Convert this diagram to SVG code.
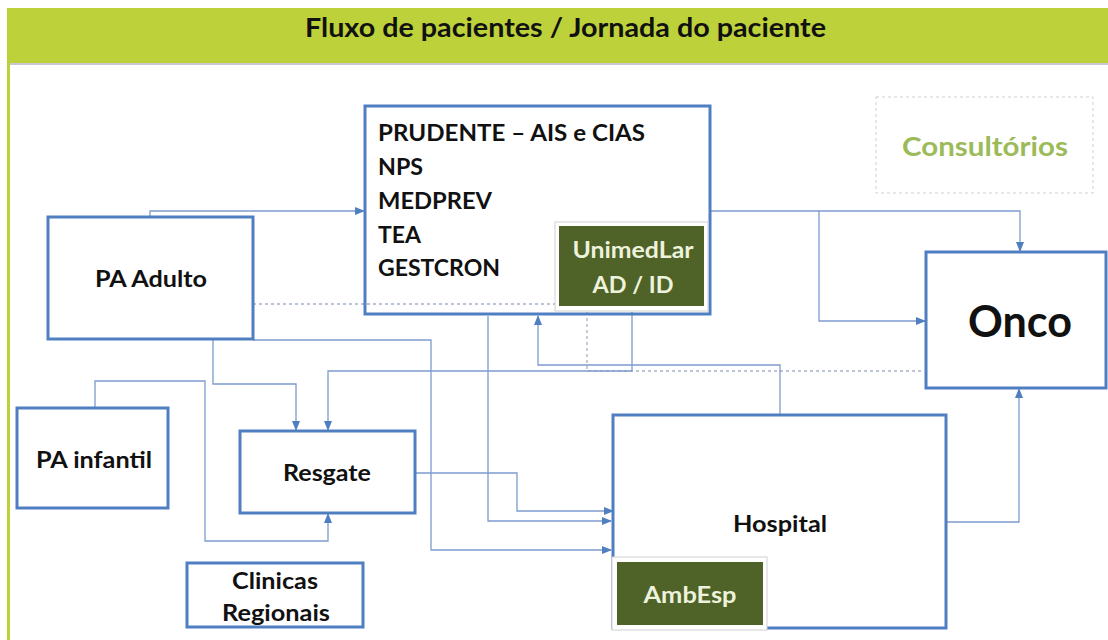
<svg xmlns="http://www.w3.org/2000/svg" width="1108" height="640" viewBox="0 0 1108 640">
  <defs>
    <style>
      .box { fill: #ffffff; stroke: #4F7FC0; stroke-width: 3; }
      .lbl { font-family: Lato, "Liberation Sans", sans-serif; font-weight: bold; fill: #111111; }
      .dark { fill: #4F6228; }
      .frame { fill: #ffffff; stroke: #d0d0d0; stroke-width: 1; }
      .ltxt { font-family: Lato, "Liberation Sans", sans-serif; font-weight: bold; fill: #EDF2DC; }
      .con { fill: none; stroke: #7E9BCD; stroke-width: 1.3; }
      .dash { fill: none; stroke: #A7B2C6; stroke-width: 1.3; stroke-dasharray: 3 3; }
    </style>
    <marker id="arr" markerUnits="userSpaceOnUse" markerWidth="10" markerHeight="10" viewBox="0 0 10 10" refX="9" refY="5" orient="auto">
      <path d="M0,1 L10,5 L0,9 Z" fill="#4F7FC0"/>
    </marker>
  </defs>

  <!-- background -->
  <rect x="0" y="0" width="1108" height="640" fill="#ffffff"/>

  <!-- header band -->
  <g id="header">
    <rect x="7" y="8" width="1101" height="55" fill="#BDD13A"/>
    <line x1="7" y1="64" x2="1108" y2="64" stroke="#B9B4C6" stroke-width="1.5"/>
    <rect x="7" y="63" width="3" height="577" fill="#BDD13A"/>
    <text class="lbl" x="305" y="37" font-size="27" textLength="521" lengthAdjust="spacingAndGlyphs">Fluxo de pacientes / Jornada do paciente</text>
  </g>

  <!-- connectors -->
  <g id="connectors">
    <path class="dash" d="M253,304 H587 V371 H924"/>
    <path class="con" d="M150,217 V211 H364" marker-end="url(#arr)"/>
    <path class="con" d="M710,211 H1020 V251" marker-end="url(#arr)"/>
    <path class="con" d="M819,211 V321 H925" marker-end="url(#arr)"/>
    <path class="con" d="M213,339 V384 H296 V430" marker-end="url(#arr)"/>
    <path class="con" d="M253,340 H431 V550 H611" marker-end="url(#arr)"/>
    <path class="con" d="M488,316 V521 H611" marker-end="url(#arr)"/>
    <path class="con" d="M415,473 H517 V511 H613" marker-end="url(#arr)"/>
    <path class="con" d="M780,414 V365 H538 V316" marker-end="url(#arr)"/>
    <path class="con" d="M632,312 V371 H328 V430" marker-end="url(#arr)"/>
    <path class="con" d="M95,408 V381 H205 V541 H328 V514" marker-end="url(#arr)"/>
    <path class="con" d="M946,522 H1019 V389" marker-end="url(#arr)"/>
  </g>

  <!-- PRUDENTE block -->
  <g id="prudente">
    <rect class="box" x="365" y="106" width="345" height="208" fill-opacity="0"/>
    <text class="lbl" x="378" y="141" font-size="22" textLength="267" lengthAdjust="spacingAndGlyphs">PRUDENTE – AIS e CIAS</text>
    <text class="lbl" x="378" y="175" font-size="22" textLength="45" lengthAdjust="spacingAndGlyphs">NPS</text>
    <text class="lbl" x="378" y="209" font-size="22" textLength="114" lengthAdjust="spacingAndGlyphs">MEDPREV</text>
    <text class="lbl" x="378" y="243" font-size="22" textLength="43" lengthAdjust="spacingAndGlyphs">TEA</text>
    <text class="lbl" x="378" y="276" font-size="22" textLength="122" lengthAdjust="spacingAndGlyphs">GESTCRON</text>
  </g>

  <!-- UnimedLar -->
  <g id="unimedlar">
    <rect class="frame" x="555" y="222" width="153" height="89"/>
    <rect class="dark" x="559" y="226" width="145" height="80"/>
    <text class="ltxt" x="633" y="258" font-size="22" text-anchor="middle" textLength="121" lengthAdjust="spacingAndGlyphs">UnimedLar</text>
    <text class="ltxt" x="633" y="293" font-size="22" text-anchor="middle" textLength="81" lengthAdjust="spacingAndGlyphs">AD / ID</text>
  </g>

  <!-- Consultorios -->
  <g id="consultorios">
    <rect x="876" y="97" width="217" height="96" fill="none" stroke="#CFCFCF" stroke-width="1" stroke-dasharray="3 3"/>
    <text x="902" y="156" font-family="Lato, 'Liberation Sans', sans-serif" font-weight="bold" font-size="26" fill="#9BBB59" textLength="166" lengthAdjust="spacingAndGlyphs">Consultórios</text>
  </g>

  <!-- Onco -->
  <g id="onco">
    <rect class="box" x="926" y="252" width="180" height="136"/>
    <text class="lbl" x="1020" y="337" font-size="43" text-anchor="middle" textLength="104" lengthAdjust="spacingAndGlyphs">Onco</text>
  </g>

  <!-- PA Adulto -->
  <g id="pa-adulto">
    <rect class="box" x="48" y="217" width="205" height="122"/>
    <text class="lbl" x="151" y="287" font-size="22" text-anchor="middle" textLength="112" lengthAdjust="spacingAndGlyphs">PA Adulto</text>
  </g>

  <!-- PA infantil -->
  <g id="pa-infantil">
    <rect class="box" x="17" y="408" width="151" height="100"/>
    <text class="lbl" x="94" y="468" font-size="22" text-anchor="middle" textLength="116" lengthAdjust="spacingAndGlyphs">PA infantil</text>
  </g>

  <!-- Resgate -->
  <g id="resgate">
    <rect class="box" x="240" y="431" width="175" height="82"/>
    <text class="lbl" x="327" y="481" font-size="22" text-anchor="middle" textLength="88" lengthAdjust="spacingAndGlyphs">Resgate</text>
  </g>

  <!-- Clinicas Regionais -->
  <g id="clinicas">
    <rect class="box" x="187" y="563" width="176" height="64"/>
    <text class="lbl" x="275" y="589" font-size="22" text-anchor="middle" textLength="86" lengthAdjust="spacingAndGlyphs">Clinicas</text>
    <text class="lbl" x="276" y="621" font-size="22" text-anchor="middle" textLength="108" lengthAdjust="spacingAndGlyphs">Regionais</text>
  </g>

  <!-- Hospital -->
  <g id="hospital">
    <rect class="box" x="613" y="415" width="333" height="213"/>
    <text class="lbl" x="780" y="532" font-size="22" text-anchor="middle" textLength="94" lengthAdjust="spacingAndGlyphs">Hospital</text>
  </g>

  <!-- AmbEsp -->
  <g id="ambesp">
    <rect class="frame" x="612" y="557" width="155" height="73"/>
    <rect class="dark" x="617" y="562" width="146" height="63"/>
    <text class="ltxt" x="690" y="603" font-size="22" text-anchor="middle" textLength="93" lengthAdjust="spacingAndGlyphs">AmbEsp</text>
  </g>
</svg>
